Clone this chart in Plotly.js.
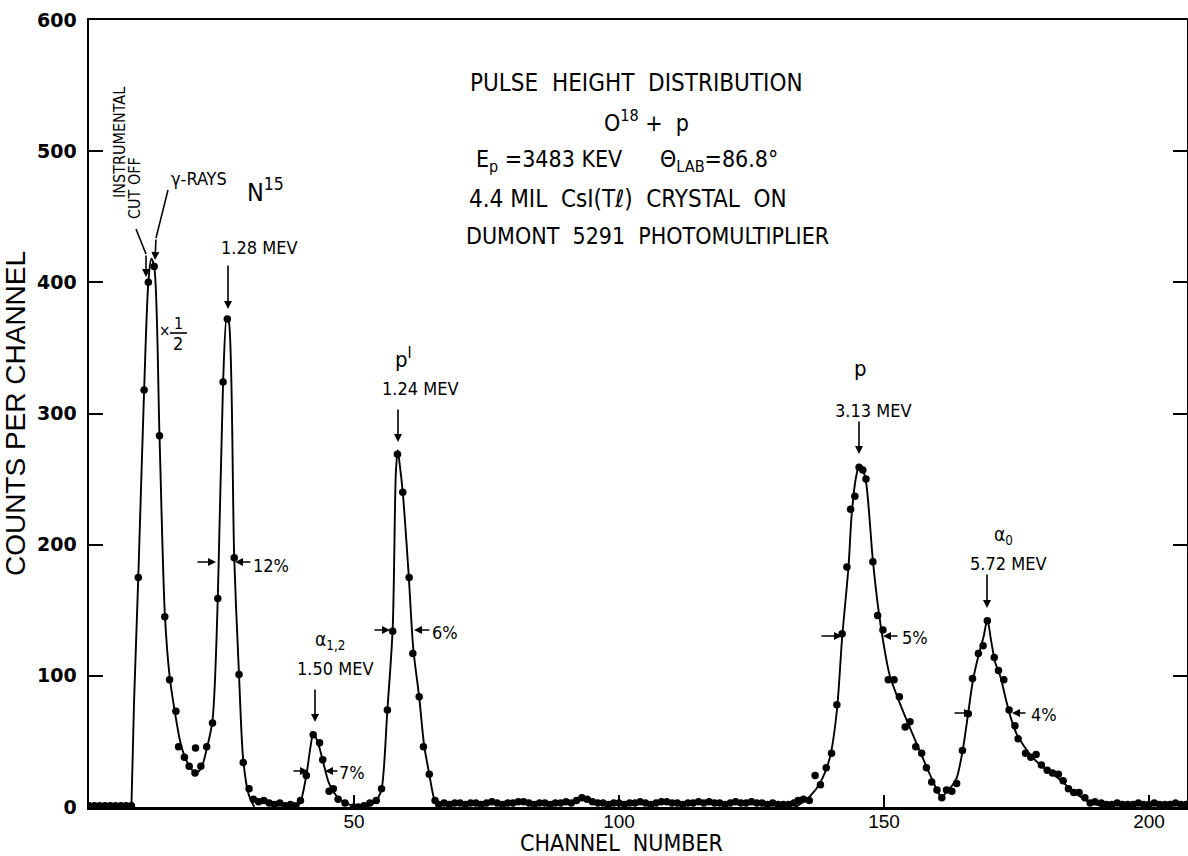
<!DOCTYPE html>
<html><head><meta charset="utf-8">
<script src="https://cdn.plot.ly/plotly-3.0.1.min.js"></script>
<style>html,body{margin:0;padding:0;background:#fff;} #chart{width:1188px;height:856px;}</style>
</head><body><div id="chart"></div>
<script>
// ---------- data ----------
const baseLeftCh = [0,1,2,3,4,5,6,7,8];
const baseLeftCounts = [1,1,1,1,1,1,1,1,1];

const gammaCh = [9.3,10.4,11.2,12.3,13.3,14.3,15.2,16.4,16.9,18.0,18.9,20.0,20.1,21.1,22.2,23.3,24.3,25.3,26.1,27.4,28.3,29.1,30.2];
const gammaCounts = [175,318,400,412,283,145,97,73,46,38,31,26,45,31,46,64,159,324,372,190,101,34,14];

const gapCh = [31,32,33,34,35,36,37,38,39];
const gapCounts = [6,4,5,3,2,3,1,2,1];

const alphaPrimeCh = [39.9,41.0,42.3,43.5,44.1,45.3,46.1,47.0,48.3,49.9,50.8,51.9,53.0,54.2,55.2,56.3,57.3,58.2,59.2,60.4,61.1,62.3,63.1,64.2,65.3];
const alphaPrimeCounts = [5,24,55,49,36,12,14,6,3,0,0,1,3,5,14,74,134,269,240,175,117,84,46,25,5];

const flatFirstCh = 66;
const flatCounts = [2,3,2,3,3,2,3,3,2,3,
  4,3,2,3,3,4,4,3,2,3,
  3,2,3,3,4,3,5,7,6,4,
  3,3,2,3,3,2,3,3,4,3,
  2,3,4,4,3,3,2,3,3,4,
  3,4,3,3,2,3,4,3,3,4,
  3,3,2,3,2,2,2,3];

const pAlphaCh = [133.8,134.8,135.9,137.0,138.0,139.1,140.1,141.1,142.1,143.0,143.7,144.5,145.3,146.0,146.6,147.9,148.8,149.8,150.8,151.9,152.9,154.0,154.9,156.0,157.1,158.0,159.0,160.0,160.9,161.8,162.8,163.7,164.8,165.9,166.7,167.8,168.7,169.5,170.8,171.6,172.6,173.6,174.7,175.3,176.7,177.7,178.7,179.7,180.8,181.8,182.9,183.8,184.8,185.8,186.8,187.9,188.9,189.8];
const pAlphaCounts = [5,6,5,24,17,30,41,78,132,183,227,237,259,257,250,187,146,135,97,97,84,61,65,46,41,30,19,13,7,13,12,18,43,71,98,117,123,142,114,104,97,74,62,52,41,38,40,32,28,26,25,20,14,11,11,7,3,4];

const tailFirstCh = 191;
const tailCounts = [3,2,2,3,2,2,2,3,2,2,3,2,2,2,3,2,2];

// hand-drawn fitted curve
const curveGammaX = [8.0,8.5,9.3,10.4,11.2,11.75,12.3,13.3,14.3,15.2,16.3,17.2,18.1,19.1,20.2,21.2,22.2,23.3,24.3,25.3,26.0,26.4,27.4,28.3,29.1,30.1,31.2];
const curveGammaY = [0,80,175,318,400,418,412,283,148,100,70,50,38,30,26,30,44,66,159,324,374,370,190,101,36,10,0];

const curveAlphaPX = [39.3,40.0,41.0,41.8,42.3,42.8,43.5,44.2,45.2,46.2,47.3,48.5,49.8,51.5,52.8,53.8,54.6,55.3,56.3,57.3,57.9,58.25,58.6,59.2,60.3,61.2,62.3,63.2,64.2,65.0,65.7];
const curveAlphaPY = [0,5,24,46,56,53,45,34,19,11,6,3,1,0,1,3,7,16,74,136,255,272,262,240,178,120,84,48,25,8,0];

const curvePAX = [133.3,134.5,136,137.9,139.8,141.1,142.1,143.3,143.9,144.7,145.3,145.9,146.6,147.9,148.9,149.9,151.1,153,154.3,156.2,158.1,160,160.9,161.8,162.8,163.7,164.8,165.9,166.8,167.8,168.8,169.5,170.2,171,172,173,174,175,176.5,178,179.5,181,182.5,184,185.5,187,188.5,190,191.5];
const curvePAY = [0,3,8,18,38,73,129,183,223,251,260,258,248,188,152,125,100,79,66,48,30,13,7,12,16,22,42,72,97,115,130,143,127,110,99,82,67,56,46,38,32,27,23,18,12,8,4,2,0];

const yTicks = [0,100,200,300,400,500,600];
const xTicks = [50,100,150,200];

// ---------- build traces ----------
const flatCh = flatCounts.map((_, i) => flatFirstCh + i);
const tailCh = tailCounts.map((_, i) => tailFirstCh + i);

const dotX = [].concat(baseLeftCh, gammaCh, gapCh, alphaPrimeCh, flatCh, pAlphaCh, tailCh);
const dotY = [].concat(baseLeftCounts, gammaCounts, gapCounts, alphaPrimeCounts, flatCounts, pAlphaCounts, tailCounts);

const curveX = [].concat(curveGammaX, [null], curveAlphaPX, [null], curvePAX);
const curveY = [].concat(curveGammaY, [null], curveAlphaPY, [null], curvePAY);

const traces = [
  {x: curveX, y: curveY, type: 'scatter', mode: 'lines', connectgaps: false,
   line: {color: '#000', width: 1.9, shape: 'spline', smoothing: 0.8}, hoverinfo: 'skip', showlegend: false},
  {x: dotX, y: dotY, type: 'scatter', mode: 'markers',
   marker: {color: '#000', size: 7.5}, showlegend: false}
];

// ---------- layout helpers (pixel -> data) ----------
const X0 = 89, PXU = 5.3, Y0 = 807, PYU = 787/600;
const dx = px => (px - X0) / PXU;
const dy = py => (Y0 - py) / PYU;
const FN = 'DejaVu Sans Condensed, DejaVu Sans, sans-serif';
const NB = '\u00A0';

function txt(px, py, text, size, extra) {
  return Object.assign({x: dx(px), y: dy(py), xref: 'x', yref: 'y', text: text, showarrow: false,
    xanchor: 'center', yanchor: 'middle', font: {family: FN, size: size, color: '#000'}}, extra || {});
}
function arr(tipX, tipY, tailX, tailY) {
  return {x: dx(tipX), y: dy(tipY), xref: 'x', yref: 'y', ax: tailX - tipX, ay: tailY - tipY,
    axref: 'pixel', ayref: 'pixel', text: '', showarrow: true, arrowhead: 2, arrowsize: 1,
    arrowwidth: 1.6, arrowcolor: '#000', standoff: 0, startstandoff: 0};
}
function seg(x1, y1, x2, y2) {
  return {type: 'line', xref: 'x', yref: 'y', x0: dx(x1), y0: dy(y1), x1: dx(x2), y1: dy(y2),
    line: {color: '#000', width: 1.6}};
}

const annotations = [
  txt(636, 83, 'PULSE' + NB + NB + 'HEIGHT' + NB + NB + 'DISTRIBUTION', 24),
  txt(646, 121, 'O<sup>18</sup>' + NB + '+' + NB + NB + 'p', 23),
  txt(549, 161, 'E<sub>p</sub>' + NB + '=3483' + NB + 'KEV', 23),
  txt(719, 161, 'Θ<sub>LAB</sub>=86.8°', 23),
  txt(628, 199, '4.4' + NB + 'MIL' + NB + NB + 'CsI(Tℓ)' + NB + NB + 'CRYSTAL' + NB + NB + 'ON', 24),
  txt(647, 236, 'DUMONT' + NB + NB + '5291' + NB + NB + 'PHOTOMULTIPLIER', 23),

  txt(119, 143, 'INSTRUMENTAL', 16, {textangle: -90}),
  txt(134, 188, 'CUT' + NB + 'OFF', 16, {textangle: -90}),
  txt(199, 178, 'γ-RAYS', 18),
  txt(265, 190, 'N<sup>15</sup>', 25),
  txt(259, 247, '1.28' + NB + 'MEV', 18),
  txt(164, 331, '×', 15),
  txt(178, 323, '1', 16),
  txt(178, 343, '2', 18),

  txt(330, 640, 'α<sub>1,2</sub>', 19),
  txt(335, 668, '1.50' + NB + 'MEV', 18),
  txt(403, 358, 'p<sup>I</sup>', 22),
  txt(420, 388, '1.24' + NB + 'MEV', 18),
  txt(860, 368, 'p', 22),
  txt(873, 410, '3.13' + NB + 'MEV', 18),
  txt(1003, 535, 'α<sub>0</sub>', 19),
  txt(1008, 563, '5.72' + NB + 'MEV', 18),

  txt(271, 565, '12%', 18),
  txt(352, 772, '7%', 18),
  txt(445, 632, '6%', 18),
  txt(915, 637, '5%', 18),
  txt(1044, 714, '4%', 18),

  arr(228, 309, 228, 264),
  arr(315, 722, 315, 688),
  arr(398, 442, 398, 408),
  arr(859, 454, 859, 420),
  arr(987, 608, 987, 573),
  arr(146, 277, 146, 254),
  arr(155, 260, 156, 238),

  arr(216, 562, 196, 562),
  arr(235, 562, 252, 562),
  arr(308, 771, 292, 771),
  arr(325, 771, 339, 771),
  arr(390, 630, 373, 630),
  arr(414, 630, 431, 630),
  arr(842, 636, 820, 636),
  arr(883, 636, 899, 636),
  arr(972, 713, 953, 713),
  arr(1012, 713, 1027, 713),

  {x: 0.5, y: 0, xref: 'paper', yref: 'paper', yshift: -36, xshift: -17, showarrow: false,
   text: 'CHANNEL' + NB + NB + 'NUMBER', xanchor: 'center', yanchor: 'middle',
   font: {family: FN, size: 23, color: '#000'}}
];

const shapes = [
  seg(136, 229, 146, 254),
  seg(168, 190, 156, 238),
  seg(170, 333, 187, 333)
];

const layout = {
  width: 1188, height: 856,
  margin: {l: 89, r: 1, t: 20, b: 49},
  paper_bgcolor: '#fff', plot_bgcolor: '#fff',
  showlegend: false,
  xaxis: {
    range: [0, 1098 / PXU], tickvals: xTicks, ticktext: xTicks.map(String),
    ticks: 'inside', ticklen: 12, tickwidth: 2, tickcolor: '#000',
    showline: true, linecolor: '#000', linewidth: 2.5, mirror: true,
    showgrid: false, zeroline: false, ticklabelstandoff: -4,
    tickfont: {family: 'Liberation Sans, Arial, sans-serif', size: 19, color: '#000'}
  },
  yaxis: {
    range: [0, 600], tickvals: yTicks, ticktext: yTicks.map(String),
    ticks: 'inside', ticklen: 14, tickwidth: 2, tickcolor: '#000',
    showline: true, linecolor: '#000', linewidth: 2.5, mirror: 'ticks',
    showgrid: false, zeroline: false, ticklabelstandoff: 6,
    tickfont: {family: 'DejaVu Sans, sans-serif', size: 19, color: '#000', weight: 'bold'},
    title: {text: 'COUNTS' + NB + 'PER' + NB + 'CHANNEL', standoff: 8,
            font: {family: 'Liberation Sans, Arial, sans-serif', size: 28, color: '#000'}}
  },
  annotations: annotations,
  shapes: shapes
};

Plotly.newPlot('chart', traces, layout, {staticPlot: true, displayModeBar: false});
</script>
</body></html>
